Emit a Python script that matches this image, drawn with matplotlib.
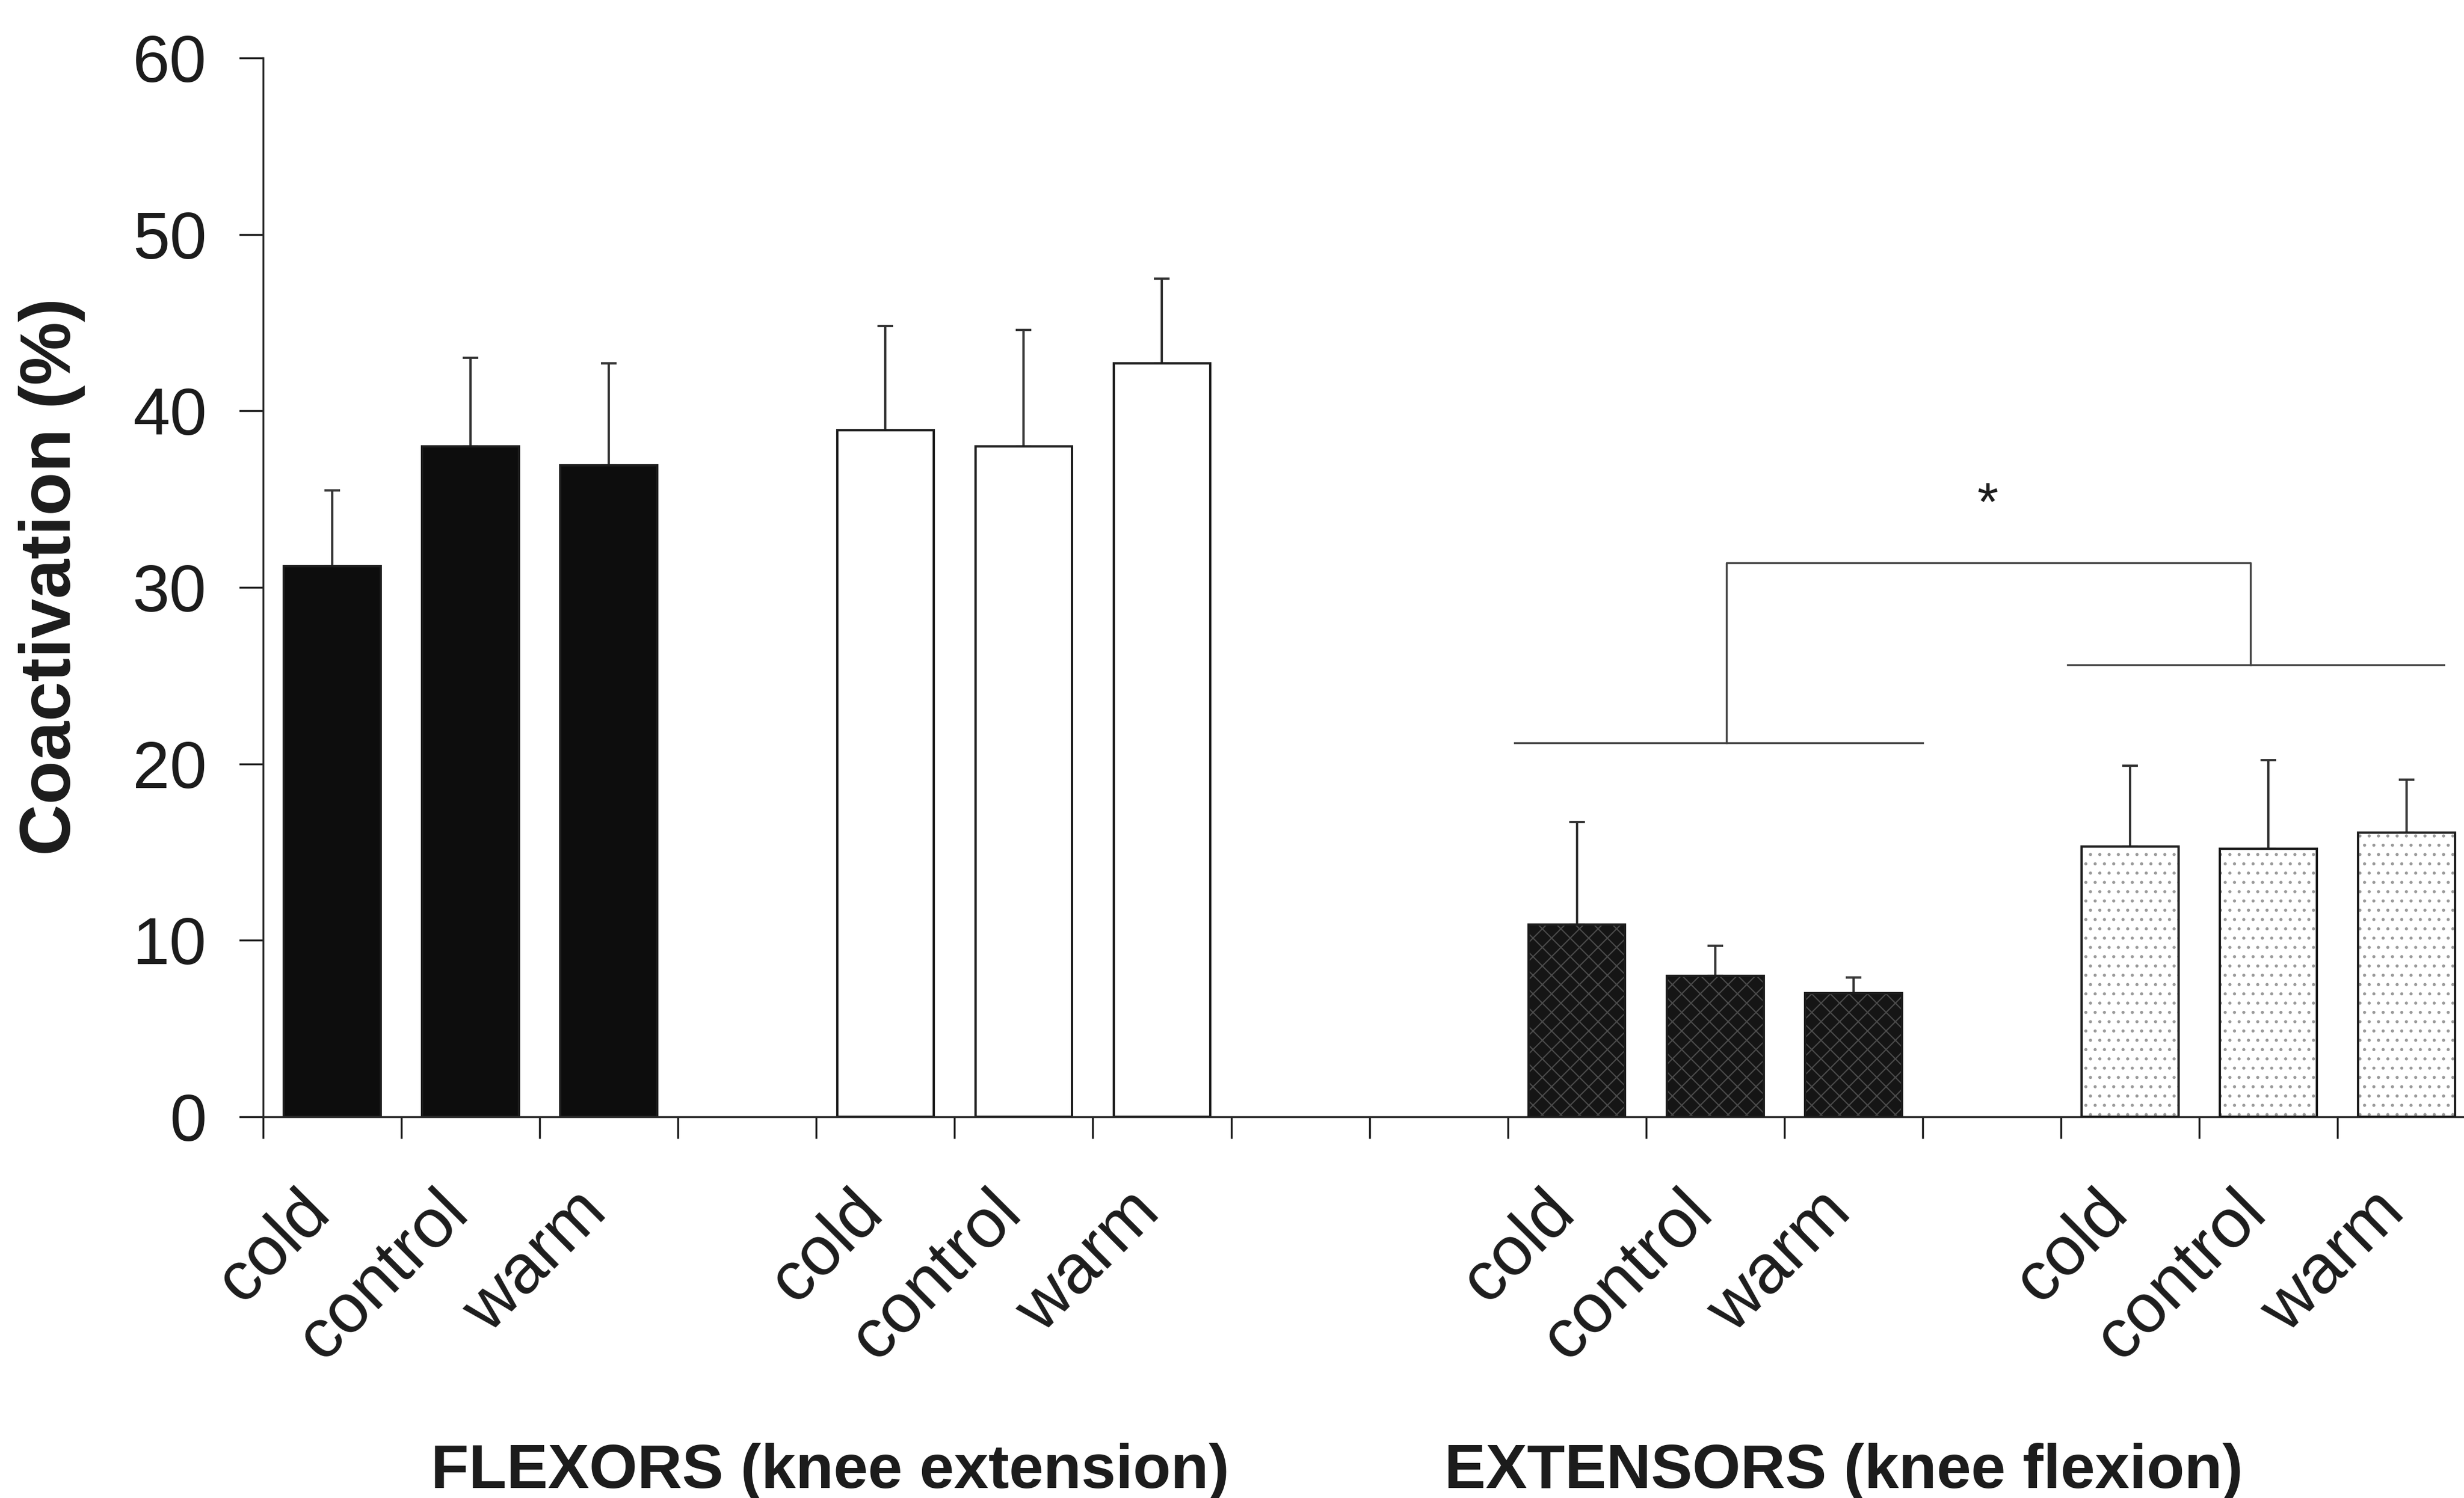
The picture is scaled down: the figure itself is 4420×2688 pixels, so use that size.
import numpy as np
import matplotlib
matplotlib.use('Agg')
import matplotlib.pyplot as plt

plt.rcParams['font.family'] = ['Liberation Sans', 'DejaVu Sans']
plt.rcParams['hatch.linewidth'] = 1.6

# conditions and bar values (coactivation %, mean and upper error)
conditions = ['cold', 'control', 'warm']
flex_dark_mean = [31.2, 38.0, 36.9]
flex_dark_err = [4.3, 5.0, 5.8]
flex_white_mean = [38.9, 38.0, 42.7]
flex_white_err = [5.9, 6.6, 4.8]
ext_dark_mean = [10.9, 8.0, 7.0]
ext_dark_err = [5.8, 1.7, 0.9]
ext_dot_mean = [15.3, 15.2, 16.1]
ext_dot_err = [4.6, 5.0, 3.0]

# slot positions of each group of three bars
flex_dark_pos = [0, 1, 2]
flex_white_pos = [4, 5, 6]
ext_dark_pos = [9, 10, 11]
ext_dot_pos = [13, 14, 15]

group_labels = ['FLEXORS (knee extension)', 'EXTENSORS (knee flexion)']
group_label_x = [3.6, 10.93]

# significance bracket levels
sig_low_left = 21.2
sig_low_right = 25.6
sig_top = 31.4
sig_star_y = 34.6

fig = plt.figure(figsize=(44.2, 26.88), dpi=100)
ax = fig.add_axes([0.1068, 0.2545, 0.8932, 0.7068])

w = 0.70
ink = '#1c1c1c'

def draw(pos, mean, err, face, hatch=None, hatch_col=None):
    if hatch is not None:
        ax.bar(pos, mean, width=w, color=face, hatch=hatch, edgecolor=hatch_col, linewidth=0, zorder=2)
        ax.bar(pos, mean, width=w, fill=False, edgecolor=ink, linewidth=3, zorder=3)
    else:
        ax.bar(pos, mean, width=w, color=face, edgecolor=ink, linewidth=3, zorder=2)
    ax.errorbar(pos, mean, yerr=[np.zeros(len(mean)), err], fmt='none', ecolor='#333333',
                elinewidth=3, capsize=10, capthick=3, zorder=1)

draw(flex_dark_pos, flex_dark_mean, flex_dark_err, '#0d0d0d')
draw(flex_white_pos, flex_white_mean, flex_white_err, 'white')
draw(ext_dark_pos, ext_dark_mean, ext_dark_err, '#151515', hatch='x', hatch_col='#4a4a4a')
draw(ext_dot_pos, ext_dot_mean, ext_dot_err, 'white', hatch='.', hatch_col='#9a9a9a')

ax.set_xlim(-0.5, 15.415)
ax.set_ylim(0, 60)
ax.set_yticks(np.arange(0, 61, 10))
ax.tick_params(axis='y', labelsize=86, length=31, width=2.5, pad=42, colors=ink)

ax.set_xticks(np.arange(-0.5, 15.5, 1))
ax.set_xticklabels([])
ax.tick_params(axis='x', which='major', length=28, width=2.5, colors=ink)
all_pos = flex_dark_pos + flex_white_pos + ext_dark_pos + ext_dot_pos
ax.set_xticks(all_pos, minor=True)
ax.set_xticklabels(conditions * 4, minor=True)
ax.tick_params(axis='x', which='minor', length=0, labelsize=90, pad=126)
for lab in ax.get_xticklabels(minor=True):
    lab.set_rotation(45)
    lab.set_ha('right')
    lab.set_va('baseline')
    lab.set_rotation_mode('anchor')
    lab.set_color(ink)

for s in ['top', 'right']:
    ax.spines[s].set_visible(False)
for s in ['left', 'bottom']:
    ax.spines[s].set_linewidth(2.5)
    ax.spines[s].set_color('#2a2a2a')

ax.text(-0.096, 0.51, 'Coactivation (%)', transform=ax.transAxes, rotation=90,
        ha='center', va='center', fontsize=92, fontweight='bold', color=ink)

for txt, gx in zip(group_labels, group_label_x):
    ax.annotate(txt, xy=(gx, 0.0175), xycoords=('data', 'figure fraction'),
                ha='center', va='center', fontsize=80, fontweight='bold', color=ink,
                annotation_clip=False)

# significance bracket
lc = '#444444'
ax.plot([8.55, 11.5], [sig_low_left, sig_low_left], color=lc, lw=2.5, clip_on=False)
ax.plot([12.55, 15.27], [sig_low_right, sig_low_right], color=lc, lw=2.5, clip_on=False)
ax.plot([10.08, 10.08, 13.87, 13.87], [sig_low_left, sig_top, sig_top, sig_low_right], color=lc, lw=2.5)
ax.text(11.97, sig_star_y, '*', fontsize=70, ha='center', va='center', color=ink)

fig.savefig('out.png', dpi=100, facecolor='white')
